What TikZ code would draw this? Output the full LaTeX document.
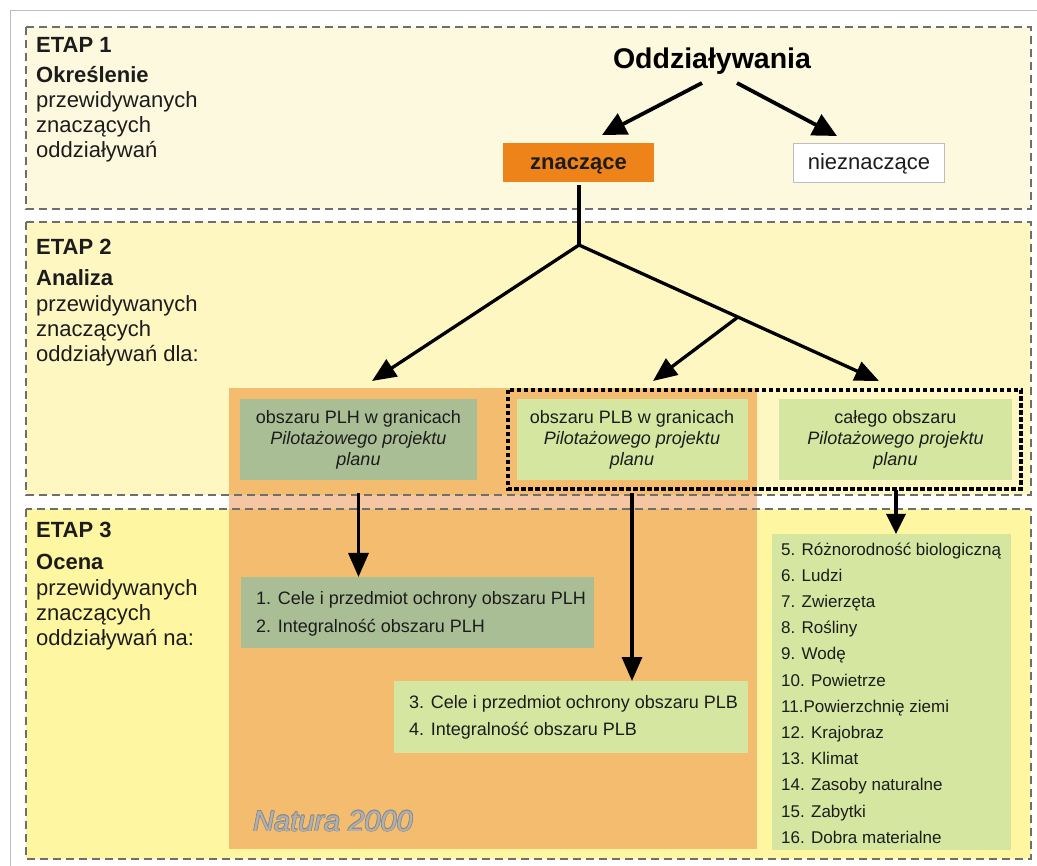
\documentclass[tikz,border=0pt]{standalone}
\usepackage{fontspec}
\setmainfont{Liberation Sans}
\usetikzlibrary{arrows.meta}
\definecolor{etapA}{HTML}{FDF9DE}
\definecolor{etapB}{HTML}{FEF7C2}
\definecolor{etapC}{HTML}{FFF6A2}
\definecolor{natura}{HTML}{F4BC6E}
\definecolor{naturagap}{HTML}{F5C6A3}
\definecolor{dashgray}{HTML}{6E6E6E}
\definecolor{framegray}{HTML}{BDBDBD}
\definecolor{znacz}{HTML}{EE8419}
\definecolor{grayg}{HTML}{AABE96}
\definecolor{lightg}{HTML}{D4E69F}
\definecolor{txt}{HTML}{1C1C1C}
\definecolor{natxt}{HTML}{B0B0B0}
\definecolor{natout}{HTML}{888888}
\newcommand\myfs[1]{\fontsize{#1}{1.2\dimexpr #1pt\relax}\selectfont}
\tikzset{
  etapline/.style={draw=dashgray, line width=1.3pt, dash pattern=on 8pt off 5pt},
  dotbox/.style={draw=black, line width=3.4pt, dash pattern=on 4.5pt off 2.5pt},
  lbl/.style={anchor=base west, inner sep=0pt, text=txt, font=\myfs{22}},
  lblb/.style={lbl, font=\myfs{22}\bfseries},
  itm/.style={anchor=base west, inner sep=0pt, text=txt, font=\myfs{18}},
  litm/.style={anchor=base west, inner sep=0pt, text=txt, font=\myfs{17}},
  abox/.style={rectangle, inner sep=0pt, align=center, text=txt, font=\fontsize{18}{21}\selectfont},
  bigarr/.style={line width=3.8pt, -{Triangle[length=24pt,width=23pt]}},
  arr/.style={line width=3.3pt, -{Triangle[length=24pt,width=20pt]}},
  plain/.style={line width=3.3pt},
  natlbl/.style={anchor=base west, inner sep=0pt, font=\myfs{29}\itshape},
}
\begin{document}
\begin{tikzpicture}[x=1pt,y=-1pt]
\useasboundingbox (0,0) rectangle (1037,866);
\fill[white] (0,0) rectangle (1037,866);
\draw[framegray, line width=0.8pt] (10,866) -- (10,10) -- (1037,10);

% stage backgrounds
\fill[etapA] (26,27) rectangle (1031,209);
\fill[etapB] (26,222) rectangle (1031,495);
\fill[etapC] (26,509) rectangle (1031,859);
% Natura 2000 area
\fill[natura] (229,388) rectangle (757,849);
\fill[naturagap] (229,495) rectangle (757,509);
% stage borders
\draw[etapline] (26,27) rectangle (1031,209);
\draw[etapline] (26,222) rectangle (1031,495);
\draw[etapline] (26,509) rectangle (1031,859);

% stage texts
\node[lblb] (e1a) at (36,53) {ETAP 1};
\node[lblb] (e1b) at (36,83) {Określenie};
\node[lbl]  (e1c) at (36,108) {przewidywanych};
\node[lbl]  (e1d) at (36,133) {znaczących};
\node[lbl]  (e1e) at (36,158) {oddziaływań};

\node[lblb] (e2a) at (36,255) {ETAP 2};
\node[lblb] (e2b) at (36,286) {Analiza};
\node[lbl]  (e2c) at (36,312) {przewidywanych};
\node[lbl]  (e2d) at (36,337) {znaczących};
\node[lbl]  (e2e) at (36,362) {oddziaływań dla:};

\node[lblb] (e3a) at (36,538) {ETAP 3};
\node[lblb] (e3b) at (36,569) {Ocena};
\node[lbl]  (e3c) at (36,595) {przewidywanych};
\node[lbl]  (e3d) at (36,620) {znaczących};
\node[lbl]  (e3e) at (36,645) {oddziaływań na:};

% stage 1
\node[anchor=base, inner sep=0pt, text=black, font=\myfs{28.5}\bfseries] (odd) at (712,69) {Oddziaływania};
\node[rectangle, fill=znacz, inner sep=0pt, minimum width=151pt, minimum height=39pt] (zn) at (578.5,162.5) {};
\node[anchor=base, inner sep=0pt, text=txt, font=\myfs{22}\bfseries] (znt) at (578.5,169.5) {znaczące};
\node[rectangle, fill=white, draw=framegray, line width=0.8pt, inner sep=0pt,
      minimum width=151pt, minimum height=39pt] (nzn) at (869,162.5) {};
\node[anchor=base, inner sep=0pt, text=txt, font=\myfs{22}] (nznt) at (869,169.5) {nieznaczące};
\coordinate (s1) at (702,83);
\coordinate (s2) at (737,83);
\coordinate (t1) at (602,135);
\coordinate (t2) at (837,136);
\draw[bigarr] (s1) -- (t1);
\draw[bigarr] (s2) -- (t2);

% stage 2
\coordinate (zs) at (579,185);
\coordinate (j) at (579,245);
\coordinate (m) at (738,317);
\coordinate (tp1) at (372,381);
\coordinate (tp2) at (653,381);
\coordinate (tp3) at (879,381);
\draw[plain] (zs) -- (j);
\draw[arr] (j) -- (tp1);
\draw[arr] (j) -- (tp3);
\draw[arr] (m) -- (tp2);

\node[abox, fill=grayg, minimum width=237pt, minimum height=81pt] (plh) at (358.5,439.5)
  {obszaru PLH w granicach\\ \itshape Pilotażowego projektu\\ \itshape planu};
\node[abox, fill=lightg, minimum width=231pt, minimum height=81pt] (plb) at (632,439.5)
  {obszaru PLB w granicach\\ \itshape Pilotażowego projektu\\ \itshape planu};
\node[abox, fill=lightg, minimum width=233pt, minimum height=81pt] (cal) at (895.5,439.5)
  {całego obszaru\\ \itshape Pilotażowego projektu\\ \itshape planu};
\draw[dotbox] (508,390) rectangle (1021,489);
\coordinate (dotb) at (896,490);

% stage 3
\node[rectangle, fill=grayg, inner sep=0pt, anchor=north west, minimum width=353pt, minimum height=71pt] (b12) at (241,577) {};
\node[itm] at (256,605) {1. Cele i przedmiot ochrony obszaru PLH};
\node[itm] at (256,632) {2. Integralność obszaru PLH};

\node[rectangle, fill=lightg, inner sep=0pt, anchor=north west, minimum width=354pt, minimum height=72pt] (b34) at (394,681) {};
\node[itm] at (409,708) {3. Cele i przedmiot ochrony obszaru PLB};
\node[itm] at (409,735) {4. Integralność obszaru PLB};

\node[rectangle, fill=lightg, inner sep=0pt, anchor=north west, minimum width=239pt, minimum height=316pt] (lst) at (772,534) {};
\foreach \t [count=\i from 0] in {5. Różnorodność biologiczną, 6. Ludzi, 7. Zwierzęta, 8. Rośliny, 9. Wodę, 10. Powietrze, 11.Powierzchnię ziemi, 12. Krajobraz, 13. Klimat, 14. Zasoby naturalne, 15. Zabytki, 16. Dobra materialne}
  \node[litm] at (781,555+26.2*\i) {\t};

\draw[arr] (plh.south |- 0,493) -- (b12.north -| plh.south);
\draw[arr] (plb.south |- 0,493) -- (b34.north -| plb.south);
\draw[line width=3.3pt, -{Triangle[length=20pt,width=19pt]}] (dotb) -- (lst.north -| dotb);

% Natura 2000 (outlined grey text)
\foreach \dx/\dy in {-0.7/0,0.7/0,0/-0.7,0/0.7,-0.5/-0.5,0.5/0.5,-0.5/0.5,0.5/-0.5}
  \node[natlbl, text=natout] at (253+\dx,831+\dy) {Natura 2000};
\node[natlbl, text=natxt] (nat) at (253,831) {Natura 2000};
\end{tikzpicture}
\end{document}
